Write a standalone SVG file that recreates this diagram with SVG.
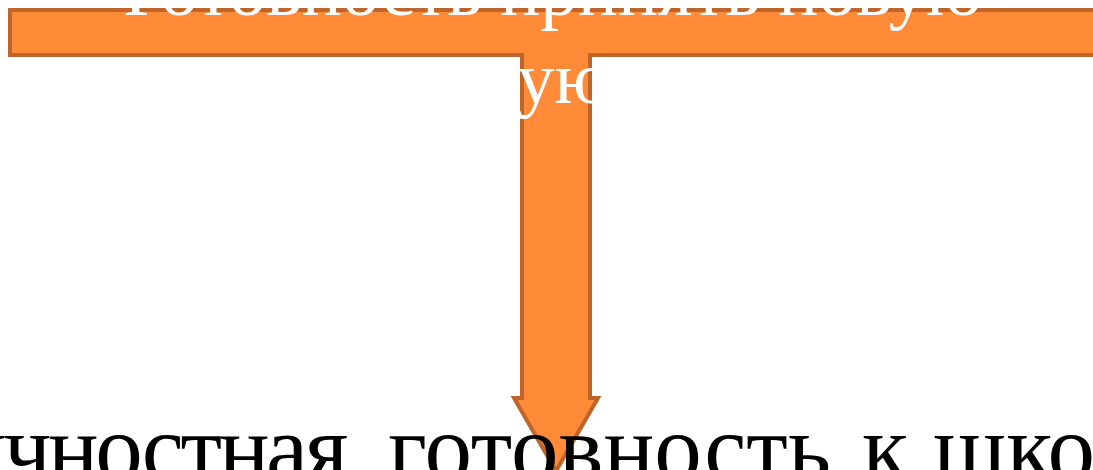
<svg xmlns="http://www.w3.org/2000/svg" width="1093" height="470" viewBox="0 0 1093 470">
<style>
.shape{fill:#FF8A38;stroke:#BF6529;stroke-width:4;stroke-linejoin:miter}
.t{font-family:"Liberation Serif","Times New Roman",serif}
.w{fill:#FFFFFF;font-size:75px}
.b{fill:#000000;font-size:95px}
</style>
<rect width="1093" height="470" fill="#FFFFFF"/>
<g id="tshape">
<path class="shape" d="M10,10 H1110 V55 H590 V398 H598 L556,471 L514,398 H522 V55 H10 Z"/>
</g>
<g id="top-label">
<text class="t w" x="553" y="15" text-anchor="middle">Готовность принять новую</text>
<text class="t w" x="517" y="103">ую</text>
</g>
<g id="bottom-label">
<text class="t b" y="480"><tspan x="-105" letter-spacing="-3.4">Личностная</tspan> <tspan x="388">готовность</tspan> <tspan x="862">к</tspan> <tspan x="933">школе</tspan></text>
</g>
</svg>
